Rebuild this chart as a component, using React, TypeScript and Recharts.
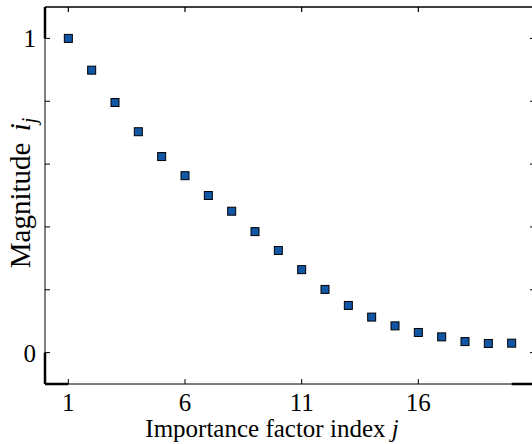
import { Label, ReferenceLine, Scatter, ScatterChart, XAxis, YAxis } from 'recharts'

const indices = [1, 2, 3, 4, 5, 6, 7, 8, 9, 10, 11, 12, 13, 14, 15, 16, 17, 18, 19, 20]
const magnitudes = [1.0, 0.899, 0.796, 0.703, 0.624, 0.563, 0.5, 0.45, 0.385, 0.325, 0.264, 0.201, 0.15, 0.113, 0.085, 0.064, 0.05, 0.035, 0.029, 0.03]
const xTicks = [1, 6, 11, 16]
const yTicks = [0, 0.2, 0.4, 0.6, 0.8, 1]
const yTickLabels: Record<number, string> = { 0: '0', 1: '1' }

const data = indices.map((j, idx) => ({ j, m: magnitudes[idx] }))

const FONT = '"Liberation Serif", "Times New Roman", serif'
const FS = 25
const X_MAX = 21
const Y_TOP = 1.1

const CHART_W = 545
const MARGIN = { top: 7, right: 9, bottom: 0, left: 0 }
const Y_AXIS_W = 45
const PLOT_W = CHART_W - MARGIN.left - MARGIN.right - Y_AXIS_W - 1

const BottomTick = ({ x, y, payload }: any) => (
  <g>
    <line x1={x} x2={x} y1={y} y2={y - 5} stroke="#000" />
    <text x={x} y={y + 27} textAnchor="middle" fontFamily={FONT} fontSize={FS} fill="#000">
      {payload.value}
    </text>
  </g>
)

const LeftTick = ({ x, y, payload }: any) => (
  <g>
    <line x1={x} x2={x + 5} y1={y} y2={y} stroke="#000" />
    <text x={x - 9} y={y + 9} textAnchor="end" fontFamily={FONT} fontSize={FS} fill="#000">
      {yTickLabels[payload.value] ?? ''}
    </text>
  </g>
)

const RightTick = ({ x, y }: any) => <line x1={x} x2={x - 5} y1={y} y2={y} stroke="#000" />

const Marker = ({ cx, cy }: any) => (
  <rect x={cx - 4} y={cy - 4} width={8} height={8} fill="#1256a6" stroke="#000" strokeWidth={1} />
)

const thick = { stroke: '#000', strokeWidth: 2.5, ifOverflow: 'visible' as const }

// x label plus the top spine with inward ticks at the x tick positions
const XLabelAndTopFrame = () => {
  const left = MARGIN.left + Y_AXIS_W
  const top = MARGIN.top
  return (
    <g>
      <text x={272} y={437} textAnchor="middle" fontFamily={FONT} fontSize={FS} fill="#000">
        Importance factor index <tspan fontStyle="italic">j</tspan>
      </text>
      <rect x={left} y={top - 0.75} width={PLOT_W} height={1.5} fill="#000" />
      {xTicks.map((t) => {
        const x = left + (t / X_MAX) * PLOT_W
        return <rect key={t} x={x - 0.6} y={top} width={1.2} height={5} fill="#000" />
      })}
    </g>
  )
}

export default function App() {
  return (
    <div style={{ position: 'absolute', left: 0, top: 0, width: 532, height: 444, overflow: 'hidden', background: '#fff' }}>
      <ScatterChart width={CHART_W} height={444} margin={MARGIN}>
        <XAxis
          dataKey="j"
          type="number"
          domain={[0, X_MAX]}
          ticks={xTicks}
          interval={0}
          height={60}
          tickSize={0}
          tickMargin={0}
          tickLine={false}
          tick={<BottomTick />}
          axisLine={{ stroke: '#000' }}
          allowDataOverflow
        >
          <Label content={() => <XLabelAndTopFrame />} />
        </XAxis>
        <YAxis
          dataKey="m"
          type="number"
          domain={[-0.1, Y_TOP]}
          ticks={yTicks}
          interval={0}
          width={Y_AXIS_W}
          tickSize={0}
          tickMargin={0}
          tickLine={false}
          tick={<LeftTick />}
          axisLine={{ stroke: '#000' }}
          allowDataOverflow
        >
          <Label
            content={() => (
              <text
                x={30}
                y={193}
                transform="rotate(-90 30 193)"
                textAnchor="middle"
                fontFamily={FONT}
                fontSize={29}
                fill="#000"
              >
                Magnitude <tspan fontStyle="italic" dx={4}>i</tspan>
                <tspan fontStyle="italic" fontSize={20} dy={6}>j</tspan>
              </text>
            )}
          />
        </YAxis>
        <YAxis
          yAxisId="right"
          orientation="right"
          type="number"
          domain={[-0.1, Y_TOP]}
          ticks={yTicks}
          interval={0}
          width={1}
          tickSize={0}
          tickMargin={0}
          tickLine={false}
          tick={<RightTick />}
          axisLine={{ stroke: '#000' }}
          allowDataOverflow
        />
        {/* range-frame thick ends */}
        <ReferenceLine segment={[{ x: 0, y: Y_TOP }, { x: 0, y: 1 }]} {...thick} />
        <ReferenceLine segment={[{ x: 0, y: 0 }, { x: 0, y: -0.1 }]} {...thick} />
        <ReferenceLine segment={[{ x: 0, y: -0.1 }, { x: 1, y: -0.1 }]} {...thick} />
        <ReferenceLine segment={[{ x: 20, y: -0.1 }, { x: X_MAX, y: -0.1 }]} {...thick} />
        <Scatter data={data} shape={<Marker />} isAnimationActive={false} />
      </ScatterChart>
    </div>
  )
}
